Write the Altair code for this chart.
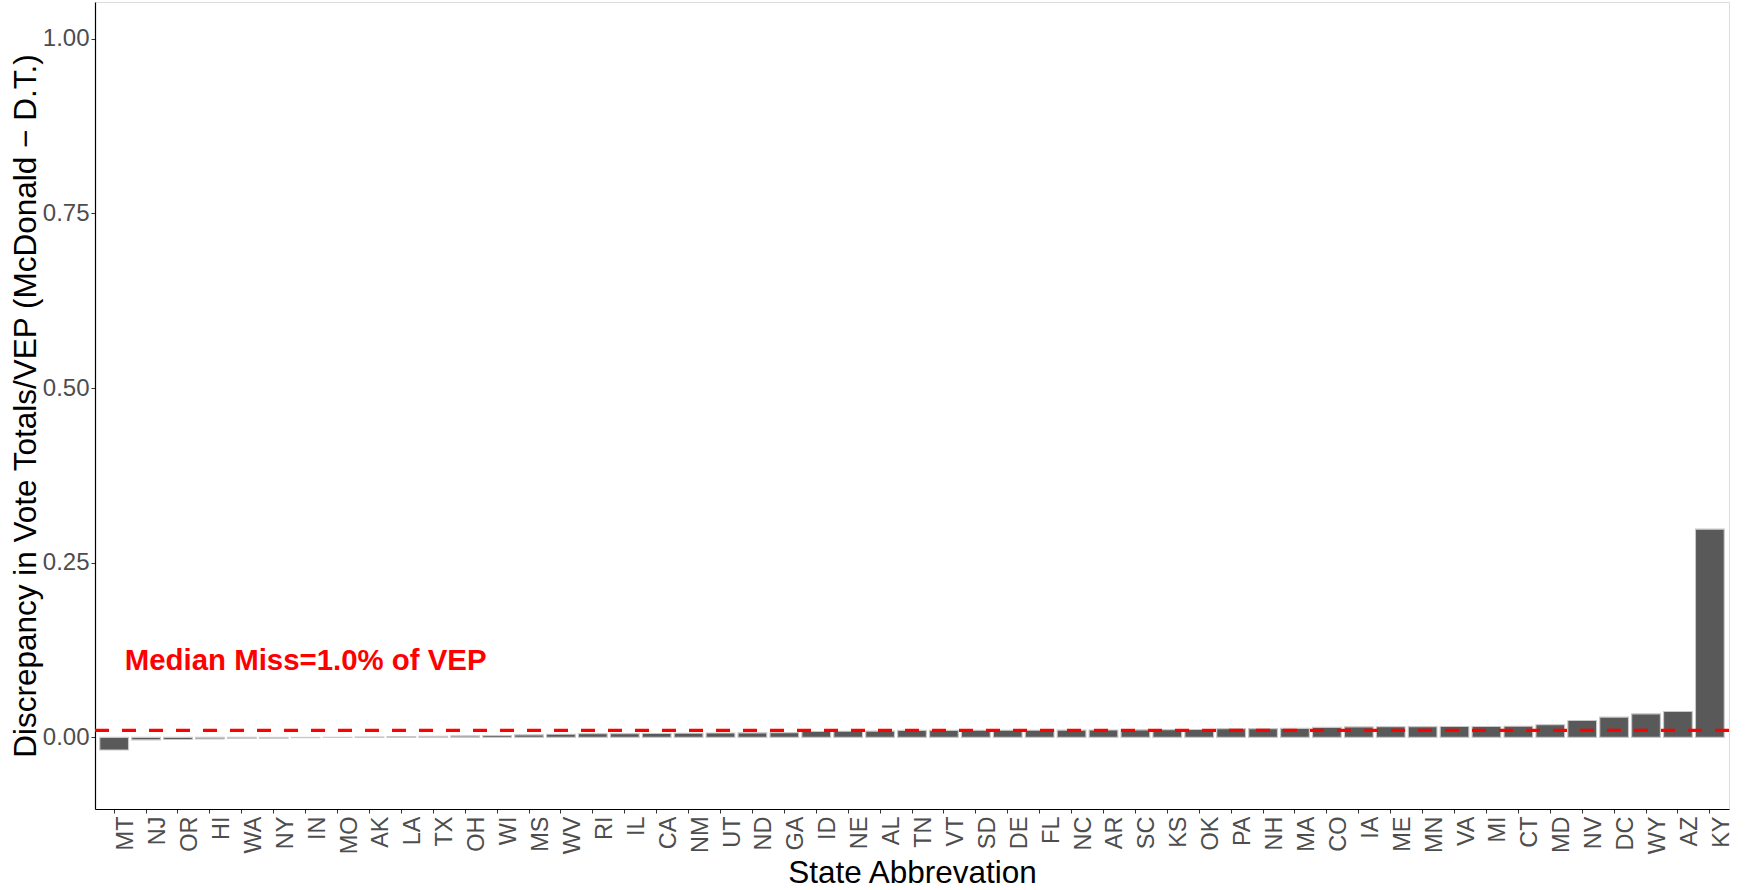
import altair as alt
import pandas as pd

# States ordered by the size of the discrepancy
states = [
    "MT", "NJ", "OR", "HI", "WA", "NY", "IN", "MO", "AK", "LA", "TX", "OH",
    "WI", "MS", "WV", "RI", "IL", "CA", "NM", "UT", "ND", "GA", "ID", "NE",
    "AL", "TN", "VT", "SD", "DE", "FL", "NC", "AR", "SC", "KS", "OK", "PA",
    "NH", "MA", "CO", "IA", "ME", "MN", "VA", "MI", "CT", "MD", "NV", "DC",
    "WY", "AZ", "KY",
]

# Discrepancy in vote totals as a share of VEP (McDonald - D.T.)
discrepancy = [
    -0.0180, -0.0035, -0.0030, -0.0022, -0.0017, -0.0012, -0.0004, 0.0002,
    0.0006, 0.0012, 0.0016, 0.0021, 0.0028, 0.0036, 0.0045, 0.0052,
    0.0054, 0.0056, 0.0060, 0.0062, 0.0065, 0.0068, 0.0085, 0.0088,
    0.0090, 0.0100, 0.0101, 0.0102, 0.0102, 0.0103, 0.0104, 0.0105,
    0.0108, 0.0110, 0.0112, 0.0124, 0.0126, 0.0129, 0.0143, 0.0150,
    0.0152, 0.0154, 0.0155, 0.0156, 0.0160, 0.0180, 0.0242, 0.0290,
    0.0337, 0.0370, 0.2980,
]

median_miss = 0.010
y_ticks = [0.0, 0.25, 0.50, 0.75, 1.00]
y_domain = [-0.1025, 1.0525]

label_state = "IN"
label_y = 0.11
label_text = f"Median Miss={median_miss * 100:.1f}% of VEP"

FONT = "Liberation Sans"
Y_TITLE = "Discrepancy in Vote Totals/VEP (McDonald \u2212 D.T.)"

bars_df = pd.DataFrame({"state": states, "discrepancy": discrepancy})
rule_df = pd.DataFrame({"discrepancy": [median_miss]})
text_df = pd.DataFrame({"state": [label_state], "discrepancy": [label_y], "label": [label_text]})

x_scale = alt.Scale(domain=states, paddingInner=0.1, paddingOuter=0.15)
y_scale = alt.Scale(domain=y_domain, nice=False, zero=False)

x_axis = alt.Axis(
    labelAngle=270, labelAlign="right", labelBaseline="top",
    labelFontSize=23.5, labelColor="#4d4d4d", labelFont=FONT, labelPadding=3,
    tickSize=4, tickColor="#333333", domainColor="black", domainWidth=1.2,
    titleFontSize=31.5, titleFont=FONT, titleColor="black", titleFontWeight="normal",
    titleBaseline="alphabetic", titleY=73,
)
y_axis = alt.Axis(
    values=y_ticks, format=".2f", grid=False,
    labelFontSize=24, labelColor="#4d4d4d", labelFont=FONT, labelPadding=2,
    tickSize=4, tickColor="#333333", domainColor="black", domainWidth=1.2,
    titleFontSize=31.5, titleFont=FONT, titleColor="black", titleFontWeight="normal",
    titleBaseline="alphabetic", titleX=-60,
)

bars = alt.Chart(bars_df).mark_bar(
    fill="#595959", stroke="#c8c8c8", strokeWidth=1.1
).encode(
    x=alt.X("state:N", scale=x_scale, axis=x_axis, title="State Abbrevation"),
    y=alt.Y("discrepancy:Q", scale=y_scale, axis=y_axis, title=Y_TITLE),
)

median_rule = alt.Chart(rule_df).mark_rule(
    color="#ff0000", strokeWidth=3.3, strokeDash=[14, 13]
).encode(
    y=alt.Y("discrepancy:Q", scale=y_scale, title=Y_TITLE),
)

median_label = alt.Chart(text_df).mark_text(
    color="#ff0000", fontSize=29.4, fontWeight="bold", font=FONT,
    align="center", baseline="middle",
).encode(
    x=alt.X("state:N", scale=x_scale, title="State Abbrevation"),
    y=alt.Y("discrepancy:Q", scale=y_scale, title=Y_TITLE),
    text="label:N",
)

chart = (
    alt.layer(bars, median_rule, median_label)
    .properties(
        width=1634, height=807,
        autosize=alt.AutoSizeParams(type="none"),
        padding={"left": 95, "top": 2, "right": 16, "bottom": 81},
        background="white",
    )
    .configure_view(stroke="#333333", strokeWidth=1.2)
    .configure(font=FONT)
)

chart.save("out.html", embed_options={"renderer": "svg", "actions": False})
